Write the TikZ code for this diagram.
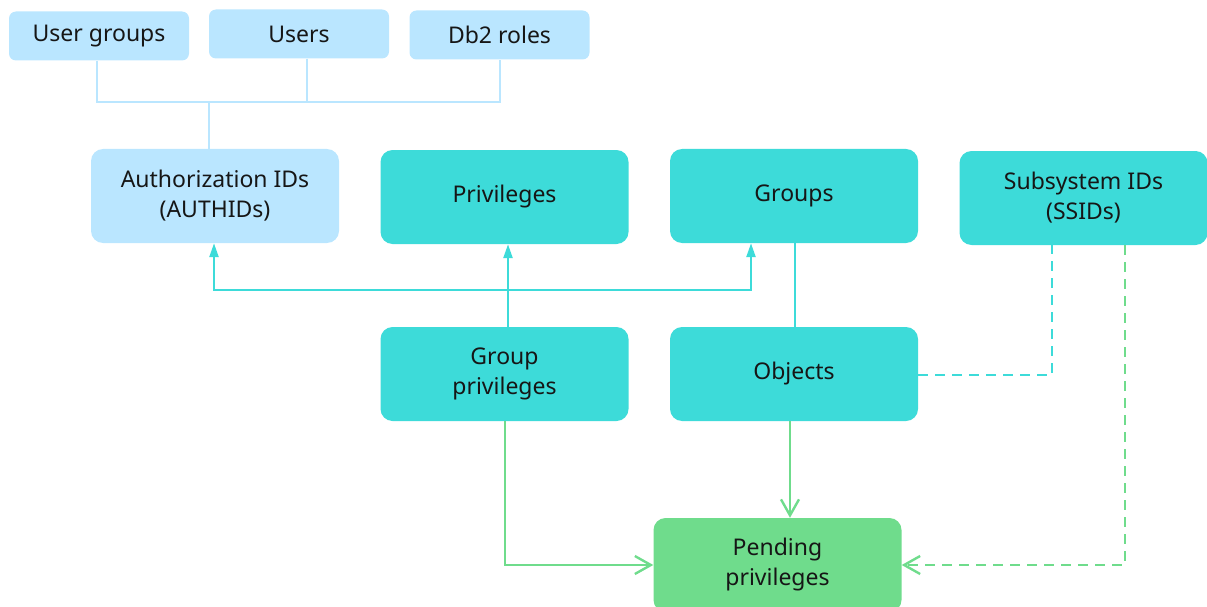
\documentclass[tikz,border=0pt]{standalone}
\usepackage{fontspec}
\setmainfont{Noto Sans}
\usetikzlibrary{arrows.meta}
\definecolor{lblue}{HTML}{BAE6FF}
\definecolor{teal30}{HTML}{3DDBD9}
\definecolor{green30}{HTML}{6FDC8C}
\definecolor{ink}{HTML}{161616}
\begin{document}
\begin{tikzpicture}[x=1pt,y=-1pt,
  box/.style={rounded corners=12pt, minimum width=248pt, minimum height=94pt,
    align=center, text=ink, font=\fontsize{23}{30}\selectfont, inner sep=0pt},
  smallbox/.style={box, minimum width=180pt, minimum height=49pt, rounded corners=7pt},
  lightbox/.style={fill=lblue},
  tealbox/.style={fill=teal30},
  greenbox/.style={fill=green30},
  bline/.style={draw=lblue, line width=2.4pt},
  tline/.style={draw=teal30, line width=2.4pt},
  tarrow/.style={tline, -{Triangle[width=9pt,length=14pt]}},
  gline/.style={draw=green30, line width=2.4pt},
  garrow/.style={gline, -{Straight Barb[width=18pt,length=16pt,line width=2.4pt]}},
  dashpat/.style={dash pattern=on 10pt off 7pt}]
\useasboundingbox (0,0) rectangle (1207,607);

% Sources of authorization IDs
\node[smallbox, lightbox] (ugroups) at (99,36) {User groups};
\node[smallbox, lightbox] (users) at (299,34) {Users};
\node[smallbox, lightbox] (roles) at (499.5,35) {Db2 roles};

% Main entities
\node[box, lightbox] (authid) at (215,196) {Authorization IDs\\(AUTHIDs)};
\node[box, tealbox] (priv) at (504.5,197) {Privileges};
\node[box, tealbox] (groups) at (794,196) {Groups};
\node[box, tealbox] (ssid) at (1083.5,198) {Subsystem IDs\\(SSIDs)};
\node[box, tealbox] (gpriv) at (504.5,374) {Group\\privileges};
\node[box, tealbox] (objects) at (794,374) {Objects};
\node[box, greenbox] (pending) at (777.5,565) {Pending\\privileges};

% Bracket joining the three sources
\coordinate (jl) at (97,102);
\coordinate (jm) at (307,102);
\coordinate (jr) at (500,102);
\coordinate (ja) at (209,102);
\draw[bline] (ugroups.south -| jl) -- (jl) -- (jr) -- (roles.south -| jr);
\draw[bline] (users.south -| jm) -- (jm);
\draw[bline] (ja) -- (authid.north -| ja);

% Group privileges link to AUTHIDs, privileges and groups
\coordinate (hl) at (214,290);
\coordinate (hm) at (508,290);
\coordinate (hr) at (751,290);
\draw[tline] (gpriv.north -| hm) -- (hm);
\draw[tarrow] (hm) -- (priv.south -| hm);
\draw[tarrow] (hm) -- (hl) -- (authid.south -| hl);
\draw[tarrow] (hm) -- (hr) -- (groups.south -| hr);
\coordinate (gx) at (795,0);
\draw[tline] (groups.south -| gx) -- (objects.north -| gx);

% Objects to subsystem IDs
\coordinate (dc) at (1052,375);
\draw[tline, dashpat] (objects.east |- dc) -- (dc) -- (ssid.south -| dc);

% Paths into pending privileges
\coordinate (pl) at (505,565);
\draw[garrow] (gpriv.south -| pl) -- (pl) -- (pending.west |- pl);
\coordinate (ox) at (790,0);
\draw[garrow] (objects.south -| ox) -- (pending.north -| ox);
\coordinate (pr) at (1125,565);
\draw[garrow, dashpat] (ssid.south -| pr) -- (pr) -- (pending.east |- pr);
\end{tikzpicture}
\end{document}
